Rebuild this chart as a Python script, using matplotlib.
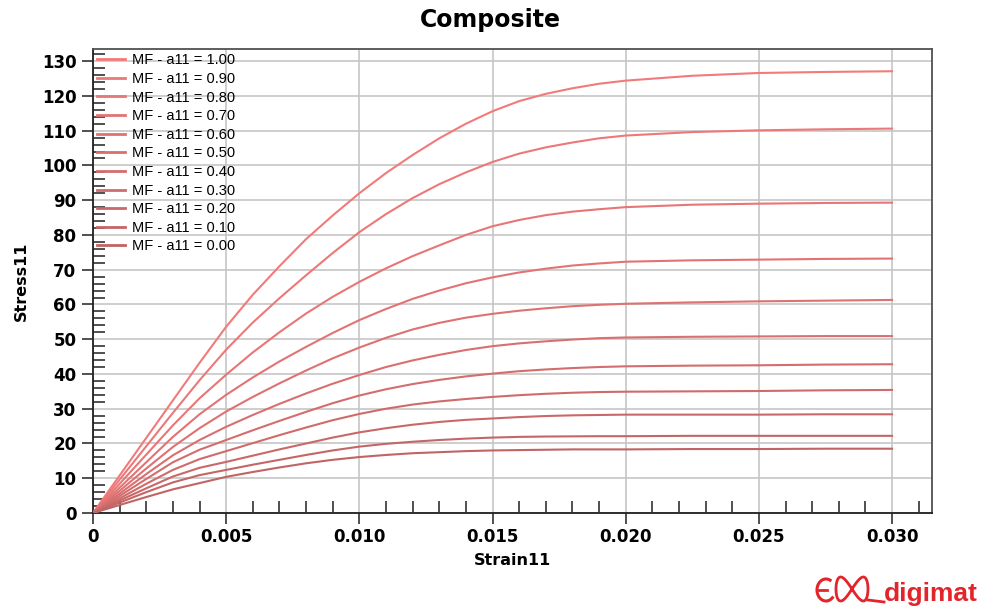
import numpy as np
import matplotlib
matplotlib.use("Agg")
import matplotlib.pyplot as plt
from matplotlib.ticker import MultipleLocator, FixedLocator

# ---------------- data ----------------
strain = [0, 0.001, 0.002, 0.003, 0.004, 0.005, 0.006, 0.007, 0.008, 0.009, 0.010,
          0.011, 0.012, 0.013, 0.014, 0.015, 0.016, 0.017, 0.018, 0.019, 0.020,
          0.0225, 0.025, 0.0275, 0.030]

labels = ["MF - a11 = 1.00", "MF - a11 = 0.90", "MF - a11 = 0.80", "MF - a11 = 0.70",
          "MF - a11 = 0.60", "MF - a11 = 0.50", "MF - a11 = 0.40", "MF - a11 = 0.30",
          "MF - a11 = 0.20", "MF - a11 = 0.10", "MF - a11 = 0.00"]

s100 = [0, 10.8, 21.6, 32.4, 43.2, 53.6, 62.8, 71.0, 78.8, 85.6, 92.0,
        97.8, 103.0, 107.8, 112.0, 115.6, 118.5, 120.6, 122.2, 123.5, 124.4,
        125.8, 126.6, 126.9, 127.1]
s090 = [0, 9.6, 19.2, 28.8, 38.2, 47.0, 54.8, 61.8, 68.4, 74.8, 80.8,
        86.0, 90.6, 94.6, 98.0, 101.0, 103.4, 105.2, 106.6, 107.8, 108.6,
        109.6, 110.1, 110.4, 110.6]
s080 = [0, 8.4, 16.8, 25.2, 33.0, 39.8, 46.2, 52.0, 57.4, 62.2, 66.5,
        70.4, 73.9, 77.0, 80.0, 82.5, 84.3, 85.7, 86.7, 87.4, 88.0,
        88.7, 89.0, 89.2, 89.3]
s070 = [0, 7.3, 14.6, 21.9, 28.4, 34.0, 39.0, 43.6, 47.8, 51.8, 55.5,
        58.7, 61.6, 64.0, 66.1, 67.8, 69.2, 70.3, 71.2, 71.8, 72.3,
        72.7, 72.9, 73.1, 73.2]
s060 = [0, 6.4, 12.8, 19.0, 24.4, 29.2, 33.4, 37.3, 41.0, 44.5, 47.6,
        50.4, 52.8, 54.7, 56.2, 57.3, 58.2, 58.9, 59.5, 59.9, 60.2,
        60.6, 60.9, 61.1, 61.3]
s050 = [0, 5.6, 11.2, 16.6, 21.0, 24.8, 28.2, 31.4, 34.4, 37.2, 39.7,
        42.0, 43.9, 45.5, 46.9, 48.0, 48.8, 49.4, 49.9, 50.3, 50.5,
        50.7, 50.8, 50.9, 50.9]
s040 = [0, 4.9, 9.8, 14.6, 18.2, 21.0, 23.8, 26.5, 29.1, 31.6, 33.8,
        35.6, 37.1, 38.3, 39.3, 40.1, 40.8, 41.3, 41.7, 42.0, 42.2,
        42.4, 42.5, 42.7, 42.8]
s030 = [0, 4.2, 8.4, 12.4, 15.5, 17.8, 20.1, 22.4, 24.6, 26.7, 28.5,
        30.0, 31.2, 32.1, 32.8, 33.4, 33.9, 34.3, 34.6, 34.8, 34.9,
        35.0, 35.1, 35.3, 35.4]
s020 = [0, 3.6, 7.1, 10.5, 13.0, 14.7, 16.5, 18.3, 20.0, 21.7, 23.2,
        24.4, 25.4, 26.2, 26.8, 27.2, 27.6, 27.9, 28.1, 28.2, 28.3,
        28.3, 28.3, 28.4, 28.4]
s010 = [0, 3.0, 6.0, 8.8, 10.9, 12.4, 13.9, 15.3, 16.7, 18.0, 19.1,
        19.9, 20.5, 21.0, 21.4, 21.7, 21.9, 22.0, 22.05, 22.1, 22.1,
        22.2, 22.2, 22.2, 22.2]
s000 = [0, 2.3, 4.6, 6.8, 8.6, 10.4, 11.8, 13.1, 14.3, 15.3, 16.1,
        16.7, 17.2, 17.5, 17.8, 18.0, 18.1, 18.2, 18.3, 18.3, 18.3,
        18.4, 18.4, 18.5, 18.5]

series = [s100, s090, s080, s070, s060, s050, s040, s030, s020, s010, s000]

xticks = [0, 0.005, 0.010, 0.015, 0.020, 0.025, 0.030]
xticklabels = ["0", "0.005", "0.010", "0.015", "0.020", "0.025", "0.030"]
yticks = list(range(0, 131, 10))

# ---------------- figure ----------------
plt.rcParams['font.family'] = ['DejaVu Sans']
fig = plt.figure(figsize=(9.84, 6.11), dpi=100)
W, H = 984, 611
L, R, T, B = 93, 932, 49, 513
ax = fig.add_axes([L / W, 1 - B / H, (R - L) / W, (B - T) / H])

c_hi = np.array([242, 122, 122]) / 255.0
c_lo = np.array([192, 100, 100]) / 255.0
n = len(series)
for i, (s, lab) in enumerate(zip(series, labels)):
    t = i / (n - 1)
    col = c_hi * (1 - t) + c_lo * t
    ax.plot(strain, s, color=col, lw=1.5, label=lab, zorder=3)

ax.set_xlim(0, 0.0315)
ax.set_ylim(0, 133.5)
ax.xaxis.set_major_locator(FixedLocator(xticks))
ax.set_xticklabels(xticklabels)
ax.xaxis.set_minor_locator(MultipleLocator(0.001))
ax.yaxis.set_major_locator(FixedLocator(yticks))
ax.yaxis.set_minor_locator(MultipleLocator(2))

ax.grid(True, which='major', color='#c6c6c6', lw=1.2, zorder=0)
ax.tick_params(axis='both', which='major', direction='out', length=8.0, width=1.1,
               labelsize=12, color='#202020')
ax.tick_params(axis='both', which='minor', direction='in', length=8.5, width=1.1,
               color='#202020')
ax.tick_params(axis='x', which='major', pad=3)
ax.tick_params(axis='y', which='major', pad=4)
for lab in ax.get_xticklabels() + ax.get_yticklabels():
    lab.set_fontweight('bold')

for side in ['left', 'bottom']:
    ax.spines[side].set_linewidth(1.3)
    ax.spines[side].set_color('#202020')
for side in ['top', 'right']:
    ax.spines[side].set_linewidth(1.3)
    ax.spines[side].set_color('#505050')

ax.set_xlabel("Strain11", fontsize=11.5, fontweight='bold', labelpad=5)
ax.set_ylabel("Stress11", fontsize=11.5, fontweight='bold', labelpad=9)

leg = ax.legend(loc='upper left', frameon=False,
                prop={'family': 'Liberation Sans', 'size': 10.5},
                handlelength=1.92, handletextpad=0.46, labelspacing=0.316,
                borderaxespad=0.15, borderpad=0.15)
for line in leg.get_lines():
    line.set_linewidth(2.0)

fig.text(0.498, 1 - 20 / H, "Composite", ha='center', va='center',
         fontsize=17, fontweight='bold')

# ---------------- logo ----------------
red = '#e3242b'
fig.text(884 / W, 1 - 594 / H, "digimat", ha='left', va='center', fontsize=19,
         fontweight='bold', color=red, family='Liberation Sans')
lax = fig.add_axes([812 / W, 1 - 608 / H, 76 / W, 38 / H])
lax.set_xlim(0, 76)
lax.set_ylim(0, 38)
lax.axis('off')
tt = np.linspace(0.35 * np.pi, 1.75 * np.pi, 60)
lax.plot(14 + 9 * np.cos(tt), 18 + 11 * np.sin(tt), color=red, lw=2.2)
lax.plot([7, 15], [18, 18], color=red, lw=2.0)
tt2 = np.linspace(0, 2 * np.pi, 120)
lax.plot(40 + 16 * np.sin(tt2), 19 + 12 * np.sin(2 * tt2), color=red, lw=2.0)
lax.plot([56, 72], [8, 6], color=red, lw=2.0)

fig.savefig("out.png", dpi=100)
